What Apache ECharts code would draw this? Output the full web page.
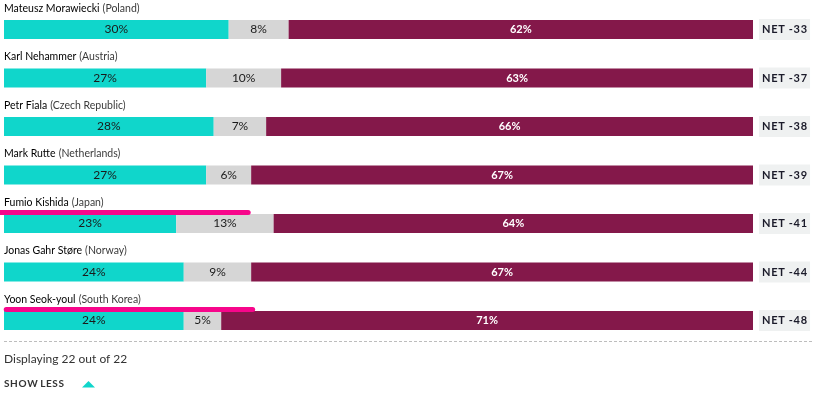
<!DOCTYPE html>
<html>
<head>
<meta charset="utf-8">
<script src="https://cdn.jsdelivr.net/npm/echarts@6/dist/echarts.min.js"></script>
<style>
html,body{margin:0;padding:0;background:#fff;}
#chart{width:817px;height:398px;}
</style>
</head>
<body>
<div id="chart"></div>
<script>
var leaders = ['Mateusz Morawiecki', 'Karl Nehammer', 'Petr Fiala', 'Mark Rutte', 'Fumio Kishida', 'Jonas Gahr Støre', 'Yoon Seok-youl'];
var countries = ['Poland', 'Austria', 'Czech Republic', 'Netherlands', 'Japan', 'Norway', 'South Korea'];
var approve = [30, 27, 28, 27, 23, 24, 24];
var unsure = [8, 10, 7, 6, 13, 9, 5];
var disapprove = [62, 63, 66, 67, 64, 67, 71];
var net = [-33, -37, -38, -39, -41, -44, -48];
// highlighted rows: [start %, end %, row index]
var highlights = [[-0.5, 32.6, 4], [0.3, 33.2, 6]];

var categories = leaders.map(function (n, i) { return n + '|' + countries[i]; });
var netLabels = net.map(function (v) { return 'NET ' + v; });
function spaced(s) { return s.split('').join('\u200A'); }

var FONT = 'Lato, "Open Sans", sans-serif';
var chart = echarts.init(document.getElementById('chart'), null, {renderer: 'canvas'});
chart.setOption({
  animation: false,
  textStyle: {fontFamily: FONT},
  grid: {left: 4, right: 64, top: 5.25, bottom: 53.25, containLabel: false},
  xAxis: {type: 'value', min: 0, max: 100, show: false},
  yAxis: [{
    type: 'category', data: categories, inverse: true,
    axisLine: {show: false}, axisTick: {show: false}, splitLine: {show: false},
    axisLabel: {
      inside: true, margin: 0, align: 'left', verticalAlign: 'middle',
      interval: 0, showMinLabel: true, showMaxLabel: true, hideOverlap: false,
      lineHeight: 14, padding: [0, 0, 42, 0],
      formatter: function (v) {
        var p = v.split('|');
        return '{n|' + p[0] + '} {c|(' + p[1] + ')}';
      },
      rich: {
        n: {fontFamily: FONT, fontSize: 10.5, fontWeight: 'normal', color: '#000', lineHeight: 14},
        c: {fontFamily: FONT, fontSize: 10.5, color: '#3a3a3a', lineHeight: 14}
      }
    }
  }, {
    type: 'category', data: netLabels, inverse: true, position: 'right',
    axisLine: {show: false}, axisTick: {show: false}, splitLine: {show: false},
    axisLabel: {
      margin: 6, align: 'left', verticalAlign: 'middle',
      interval: 0, showMinLabel: true, showMaxLabel: true, hideOverlap: false,
      fontFamily: FONT, fontSize: 11, fontWeight: 'bold', color: '#1b1b2a',
      backgroundColor: '#eff1f1', padding: [4, 3, 4, 3], lineHeight: 13,
      formatter: function (v) { return spaced(v); }
    }
  }],
  series: [{
    type: 'bar', stack: 'a', data: approve, barWidth: 19,
    itemStyle: {color: '#10d6cb'},
    label: {show: true, position: 'inside', formatter: '{c}%', color: '#1a1a1a', fontSize: 12, fontFamily: FONT}
  }, {
    type: 'bar', stack: 'a', data: unsure, barWidth: 19,
    itemStyle: {color: '#d6d6d6'},
    label: {show: true, position: 'inside', formatter: '{c}%', color: '#1a1a1a', fontSize: 12, fontFamily: FONT}
  }, {
    type: 'bar', stack: 'a', data: disapprove, barWidth: 19,
    itemStyle: {color: '#84184a'},
    label: {show: true, position: 'inside', formatter: '{c}%', color: '#fff', fontWeight: 'bold', fontSize: 11, fontFamily: FONT}
  }, {
    type: 'custom', data: highlights, encode: {x: [0, 1], y: 2}, z: 10,
    renderItem: function (params, api) {
      var p1 = api.coord([api.value(0), api.value(2)]);
      var p2 = api.coord([api.value(1), api.value(2)]);
      return {
        type: 'line',
        shape: {x1: p1[0], y1: p1[1] - 11, x2: p2[0], y2: p2[1] - 11},
        style: {stroke: '#f7068b', lineWidth: 5, lineCap: 'round'}
      };
    }
  }],
  title: [{
    text: 'Displaying 22 out of 22', left: 4, top: 353, padding: 0,
    textStyle: {fontFamily: FONT, fontSize: 12, fontWeight: 'normal', color: '#333'}
  }, {
    text: spaced('SHOW') + '\u2009\u2009' + spaced('LESS'), left: 4, top: 379, padding: 0,
    textStyle: {fontFamily: FONT, fontSize: 10, fontWeight: 'bold', color: '#333'}
  }],
  graphic: [{
    type: 'line', shape: {x1: 4, y1: 341.5, x2: 813, y2: 341.5},
    style: {stroke: '#bdbdbd', lineWidth: 1, lineDash: [3, 2]}
  }, {
    type: 'polygon', shape: {points: [[82, 387.5], [95, 387.5], [88.5, 381]]},
    style: {fill: '#10d6cb'}
  }]
});
</script>
</body>
</html>
